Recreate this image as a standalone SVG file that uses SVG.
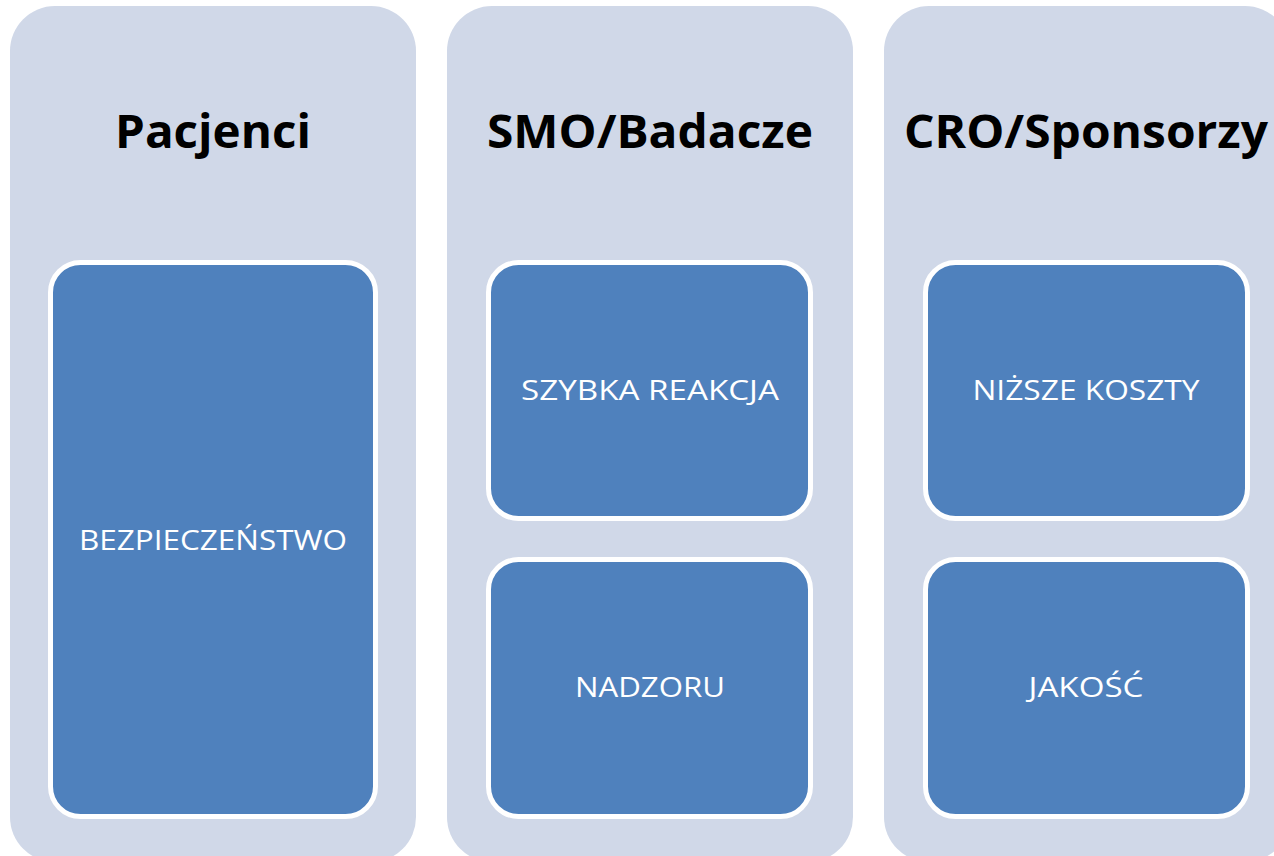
<svg xmlns="http://www.w3.org/2000/svg" width="1274" height="856" viewBox="0 0 1274 856">
<style>
.panel{fill:#D0D8E8;}
.box{fill:#4F81BD;stroke:#FFFFFF;stroke-width:5;}
.title{font-family:"Open Sans","Liberation Sans",sans-serif;font-weight:bold;font-size:46px;fill:#000000;text-anchor:middle;}
.label{font-family:"Open Sans","Liberation Sans",sans-serif;font-size:27px;fill:#FFFFFF;text-anchor:middle;}
</style>
<rect width="1274" height="856" fill="#FFFFFF"/>
<g id="pacjenci">
<rect class="panel" x="10" y="6" width="406" height="856" rx="45" ry="45"/>
<text class="title" x="213" y="148" textLength="196" lengthAdjust="spacingAndGlyphs">Pacjenci</text>
</g>
<g id="smo">
<rect class="panel" x="447" y="6" width="406" height="856" rx="45" ry="45"/>
<text class="title" x="650" y="148" textLength="326" lengthAdjust="spacingAndGlyphs">SMO/Badacze</text>
</g>
<g id="cro">
<rect class="panel" x="884" y="6" width="406" height="856" rx="45" ry="45"/>
<text class="title" x="1086" y="148" textLength="364" lengthAdjust="spacingAndGlyphs">CRO/Sponsorzy</text>
</g>
<g id="bezpieczenstwo">
<rect class="box" x="50.5" y="262.5" width="325" height="554" rx="30" ry="30"/>
<text class="label" x="213" y="550" textLength="268" lengthAdjust="spacingAndGlyphs">BEZPIECZEŃSTWO</text>
</g>
<g id="szybka-reakcja">
<rect class="box" x="488.5" y="262.5" width="322" height="256" rx="30" ry="30"/>
<text class="label" x="650" y="400" textLength="258" lengthAdjust="spacingAndGlyphs">SZYBKA REAKCJA</text>
</g>
<g id="nadzoru">
<rect class="box" x="488.5" y="559.5" width="322" height="257" rx="30" ry="30"/>
<text class="label" x="650" y="697" textLength="150" lengthAdjust="spacingAndGlyphs">NADZORU</text>
</g>
<g id="nizsze-koszty">
<rect class="box" x="925.5" y="262.5" width="322" height="256" rx="30" ry="30"/>
<text class="label" x="1086" y="400" textLength="227" lengthAdjust="spacingAndGlyphs">NIŻSZE KOSZTY</text>
</g>
<g id="jakosc">
<rect class="box" x="925.5" y="559.5" width="322" height="257" rx="30" ry="30"/>
<text class="label" x="1086" y="697" textLength="115" lengthAdjust="spacingAndGlyphs">JAKOŚĆ</text>
</g>
<g id="connectors"></g>
</svg>
